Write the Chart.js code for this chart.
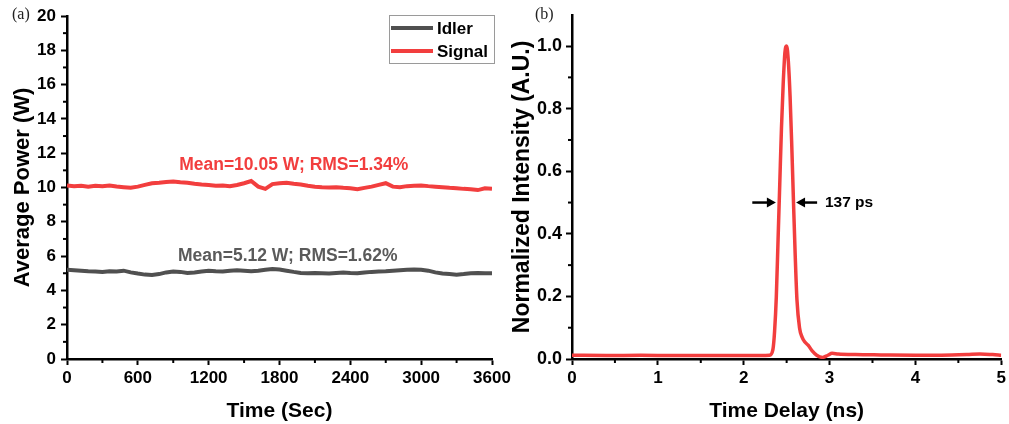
<!DOCTYPE html>
<html>
<head>
<meta charset="utf-8">
<script src="https://cdn.jsdelivr.net/npm/chart.js@4.4.1/dist/chart.umd.min.js"></script>
<style>
  html, body { margin: 0; padding: 0; background: #fff; }
  #wrap { position: relative; width: 1009px; height: 424px; overflow: hidden; }
  .panel { position: absolute; top: 0; height: 424px; }
  #left { left: 0; width: 530px; }
  #right { left: 500px; width: 509px; }
  .tag { position: absolute; top: 5px; font: 16px "Liberation Serif", "Times New Roman", serif; color: #222; }
</style>
</head>
<body>
<div id="wrap">
  <div class="panel" id="left"><canvas id="powerChart"></canvas></div>
  <div class="panel" id="right"><canvas id="pulseChart"></canvas></div>
  <div class="tag" style="left:12px">(a)</div>
  <div class="tag" style="left:535px">(b)</div>
</div>
<script>
// panel (a): power over one hour, read every 60 s
const timeSec = [0, 60, 120, 180, 240, 300, 360, 420, 480, 540, 600, 660, 720, 780, 840, 900, 960, 1020, 1080, 1140,
  1200, 1260, 1320, 1380, 1440, 1500, 1560, 1620, 1680, 1740, 1800, 1860, 1920, 1980, 2040, 2100, 2160, 2220, 2280, 2340,
  2400, 2460, 2520, 2580, 2640, 2700, 2760, 2820, 2880, 2940, 3000, 3060, 3120, 3180, 3240, 3300, 3360, 3420, 3480, 3540, 3600];
const signalPower = [10.12, 10.08, 10.10, 10.05, 10.10, 10.08, 10.12, 10.06, 10.02, 9.98, 10.05, 10.15, 10.25, 10.28, 10.32, 10.35, 10.30, 10.28, 10.22, 10.18,
  10.15, 10.10, 10.12, 10.08, 10.15, 10.25, 10.38, 10.05, 9.92, 10.20, 10.25, 10.28, 10.22, 10.18, 10.10, 10.05, 10.02, 10.00, 10.02, 9.98,
  9.95, 9.90, 9.98, 10.05, 10.15, 10.25, 10.05, 10.02, 10.08, 10.10, 10.12, 10.08, 10.05, 10.02, 9.98, 9.95, 9.92, 9.90, 9.85, 9.95, 9.92];
const idlerPower = [5.20, 5.18, 5.15, 5.12, 5.10, 5.08, 5.12, 5.10, 5.15, 5.05, 4.98, 4.92, 4.90, 4.95, 5.05, 5.10, 5.08, 5.02, 5.05, 5.10,
  5.15, 5.12, 5.10, 5.15, 5.18, 5.15, 5.12, 5.15, 5.20, 5.25, 5.22, 5.15, 5.08, 5.02, 5.00, 5.02, 5.00, 4.98, 5.02, 5.05,
  5.02, 5.00, 5.05, 5.08, 5.10, 5.12, 5.15, 5.18, 5.20, 5.22, 5.20, 5.15, 5.05, 4.98, 4.95, 4.92, 4.95, 5.00, 5.02, 5.00, 5.00];

// panel (b): normalized pulse trace
const delayNs = [0, 0.4, 0.8, 1.2, 1.6, 2.0, 2.2, 2.3, 2.34, 2.36, 2.38, 2.40, 2.42, 2.44, 2.46, 2.48, 2.50, 2.52, 2.54, 2.56,
  2.58, 2.60, 2.62, 2.65, 2.68, 2.71, 2.75, 2.80, 2.85, 2.92, 2.98, 3.03, 3.1, 3.3, 3.6, 4.0, 4.3, 4.6, 4.75, 4.9, 5.0];
const intensity = [0.012, 0.011, 0.012, 0.011, 0.011, 0.011, 0.011, 0.012, 0.03, 0.09, 0.20, 0.38, 0.56, 0.74, 0.88, 0.98, 1.0, 0.95, 0.84, 0.68,
  0.50, 0.33, 0.19, 0.10, 0.07, 0.055, 0.044, 0.025, 0.012, 0.005, 0.012, 0.018, 0.016, 0.014, 0.013, 0.012, 0.012, 0.014, 0.016, 0.014, 0.012];

const RED = 'rgb(242,62,62)';
const GREY = '#505050';

Chart.defaults.font.family = '"Liberation Sans", Arial, sans-serif';
Chart.defaults.color = '#000';

// short outward ticks between the labelled ones
function minorTicks(xStep, yStep) {
  return {
    id: 'minorTicks',
    afterDraw(chart) {
      const {ctx, chartArea, scales: {x, y}} = chart;
      ctx.save();
      ctx.strokeStyle = '#000';
      ctx.lineWidth = 2;
      for (let v = xStep; v < x.max - 1e-9; v += 2 * xStep) {
        const px = x.getPixelForValue(v);
        ctx.beginPath(); ctx.moveTo(px, chartArea.bottom); ctx.lineTo(px, chartArea.bottom + 4); ctx.stroke();
      }
      for (let v = yStep; v < y.max - 1e-9; v += 2 * yStep) {
        const py = y.getPixelForValue(v);
        ctx.beginPath(); ctx.moveTo(chartArea.left, py); ctx.lineTo(chartArea.left - 4, py); ctx.stroke();
      }
      ctx.restore();
    }
  };
}

const axisX = (min, max, step, title) => ({
  type: 'linear', min, max,
  ticks: { stepSize: step, font: { size: 17, weight: 'bold' }, padding: 3, maxRotation: 0, callback: v => String(v) },
  grid: { drawOnChartArea: false, tickLength: 6, tickWidth: 2, tickColor: '#000' },
  border: { color: '#000', width: 2.5 },
  title: { display: true, text: title, font: { size: 21, weight: 'bold' }, padding: { top: 0, bottom: 0 } }
});

new Chart(document.getElementById('powerChart'), {
  type: 'line',
  data: {
    datasets: [
      { label: 'Idler', data: timeSec.map((t, i) => ({ x: t, y: idlerPower[i] })), borderColor: GREY, borderWidth: 4, pointRadius: 0 },
      { label: 'Signal', data: timeSec.map((t, i) => ({ x: t, y: signalPower[i] })), borderColor: RED, borderWidth: 4, pointRadius: 0 }
    ]
  },
  options: {
    responsive: true, maintainAspectRatio: false, animation: false,
    layout: { padding: { top: 16, right: 38, left: 0, bottom: 0 } },
    plugins: { legend: { display: false }, tooltip: { enabled: false } },
    scales: {
      x: Object.assign(axisX(0, 3600, 600, 'Time (Sec)'), { afterFit: s => { s.height = 65; } }),
      y: {
        min: 0, max: 20,
        ticks: { stepSize: 2, font: { size: 17, weight: 'bold' }, padding: 5 },
        grid: { drawOnChartArea: false, tickLength: 6, tickWidth: 2, tickColor: '#000' },
        border: { color: '#000', width: 2.5 },
        title: { display: true, text: 'Average Power (W)', font: { size: 22, weight: 'bold' }, padding: { top: 10, bottom: 0 } },
        afterFit: s => { s.width = 67; }
      }
    }
  },
  plugins: [minorTicks(300, 1), {
    id: 'powerNotes',
    afterDatasetsDraw(chart) {
      const {ctx, chartArea, scales: {x, y}} = chart;
      ctx.save();
      ctx.font = 'bold 17.5px "Liberation Sans", Arial, sans-serif';
      ctx.textBaseline = 'middle';
      ctx.textAlign = 'left';
      ctx.fillStyle = RED;
      ctx.fillText('Mean=10.05 W; RMS=1.34%', x.getPixelForValue(950), y.getPixelForValue(11.32));
      ctx.fillStyle = '#5a5a5a';
      ctx.fillText('Mean=5.12 W; RMS=1.62%', x.getPixelForValue(940), y.getPixelForValue(6.02));

      // boxed legend in the top right corner
      const bx = chartArea.right - 103, by = chartArea.top - 1, bw = 105, bh = 48;
      ctx.fillStyle = '#fff';
      ctx.fillRect(bx, by, bw, bh);
      ctx.strokeStyle = '#9a9a9a';
      ctx.lineWidth = 1;
      ctx.strokeRect(bx + 0.5, by + 0.5, bw, bh);
      ctx.font = 'bold 17px "Liberation Sans", Arial, sans-serif';
      chart.data.datasets.forEach((ds, i) => {
        const ly = by + 13 + i * 23;
        ctx.strokeStyle = ds.borderColor;
        ctx.lineWidth = 4;
        ctx.beginPath(); ctx.moveTo(bx + 2, ly); ctx.lineTo(bx + 44, ly); ctx.stroke();
        ctx.fillStyle = '#000';
        ctx.fillText(ds.label, bx + 48, ly + 1);
      });
      ctx.restore();
    }
  }]
});

new Chart(document.getElementById('pulseChart'), {
  type: 'line',
  data: {
    datasets: [
      { label: 'Pulse', data: delayNs.map((t, i) => ({ x: t, y: intensity[i] })), borderColor: RED, borderWidth: 3.5, pointRadius: 0, cubicInterpolationMode: 'monotone' }
    ]
  },
  options: {
    responsive: true, maintainAspectRatio: false, animation: false,
    layout: { padding: { top: 10, right: 6, left: 0, bottom: 0 } },
    plugins: { legend: { display: false }, tooltip: { enabled: false } },
    scales: {
      x: Object.assign(axisX(0, 5, 1, 'Time Delay (ns)'), { afterFit: s => { s.height = 65; } }),
      y: {
        min: 0, max: 1.1,
        ticks: { stepSize: 0.2, includeBounds: false, font: { size: 18, weight: 'bold' }, padding: 4, callback: v => v.toFixed(1) },
        grid: { drawOnChartArea: false, tickLength: 6, tickWidth: 2, tickColor: '#000' },
        border: { color: '#000', width: 2.5 },
        title: { display: true, text: 'Normalized Intensity (A.U.)', font: { size: 23, weight: 'bold' }, padding: { top: 9, bottom: 0 } },
        afterFit: s => { s.width = 72; }
      }
    }
  },
  plugins: [minorTicks(0.5, 0.1), {
    id: 'fwhm',
    afterDatasetsDraw(chart) {
      const {ctx, scales: {x, y}} = chart;
      const py = y.getPixelForValue(0.5);
      const arrow = (from, to) => {
        const x0 = x.getPixelForValue(from), x1 = x.getPixelForValue(to);
        const dir = Math.sign(x1 - x0);
        ctx.beginPath(); ctx.moveTo(x0, py); ctx.lineTo(x1 - dir * 6, py); ctx.stroke();
        ctx.beginPath();
        ctx.moveTo(x1, py); ctx.lineTo(x1 - dir * 9, py - 5); ctx.lineTo(x1 - dir * 9, py + 5); ctx.closePath(); ctx.fill();
      };
      ctx.save();
      ctx.strokeStyle = '#000'; ctx.fillStyle = '#000'; ctx.lineWidth = 2.5;
      arrow(2.10, 2.375);
      arrow(2.855, 2.61);
      ctx.font = 'bold 15.5px "Liberation Sans", Arial, sans-serif';
      ctx.textBaseline = 'middle';
      ctx.fillText('137 ps', x.getPixelForValue(2.946), py);
      ctx.restore();
    }
  }]
});
</script>
</body>
</html>
